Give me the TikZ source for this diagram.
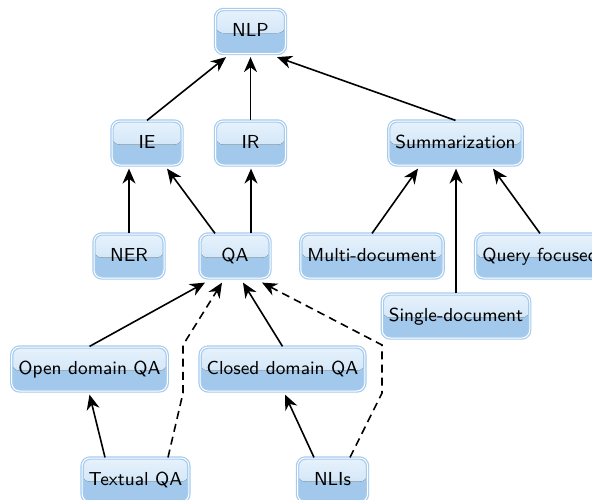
\documentclass[tikz,border=0pt]{standalone}
\usetikzlibrary{arrows.meta}
\definecolor{bordc}{RGB}{165,203,238}
\definecolor{topc}{RGB}{231,242,252}
\definecolor{midc}{RGB}{212,231,248}
\definecolor{botc}{RGB}{162,200,235}
\tikzset{
  box/.style={draw=bordc, line width=0.6pt, double=white, double distance=0.5pt,
    rounded corners=4pt, minimum width=35pt, minimum height=22pt,
    inner xsep=3.3pt, text height=1.5ex, text depth=0.3ex,
    font=\sffamily\fontsize{9.4}{11}\selectfont,
    path picture={
      \fill[botc] (path picture bounding box.south west) rectangle (path picture bounding box.north east);
      \fill[top color=topc, bottom color=midc] (path picture bounding box.north west) rectangle ([yshift=-0.8pt]path picture bounding box.east);
    }},
  arr/.style={-{Stealth[length=7.5pt,width=6.5pt,inset=2.4pt]}, line width=0.8pt, black},
  dsh/.style={arr, dash pattern=on 4pt off 2.6pt}
}
\begin{document}
\begin{tikzpicture}[x=0.5pt,y=-0.5pt]
\useasboundingbox (0,0) rectangle (592,499);
\node[box] (NLP) at (250.5,31.5) {NLP};
\node[box] (IE) at (147,143) {IE};
\node[box] (IR) at (250.5,143) {IR};
\node[box] (SUM) at (455.5,143) {Summarization};
\node[box] (NER) at (129,256) {NER};
\node[box] (QA) at (235,256) {QA};
\node[box] (MUL) at (372,256) {Multi-document};
\node[box] (QF) at (540,256) {Query focused};
\node[box] (SIN) at (456,316) {Single-document};
\node[box] (ODQ) at (89.5,369) {Open domain QA};
\node[box] (CDQ) at (282.5,369) {Closed domain QA};
\node[box] (TQA) at (135.5,480) {Textual QA};
\node[box] (NLI) at (332.5,480) {NLIs};

\draw[arr] (IE.north) -- ([shift={(-24.5,3)}]NLP.south);
\draw[arr] (IR.north) -- ([shift={(0,3)}]NLP.south);
\draw[arr] (SUM.north) -- ([shift={(26.5,3)}]NLP.south);

\draw[arr] (NER.north) -- ([shift={(0,3)}]NER.north |- IE.south);
\draw[arr] ([shift={(-20,0)}]QA.north) -- ([shift={(20,3)}]IE.south);
\draw[arr] ([shift={(16,0)}]QA.north) -- ([shift={(16,3)}]QA.north |- IR.south);

\draw[arr] (MUL.north) -- ([shift={(-37.5,3)}]SUM.south);
\draw[arr] (SIN.north) -- ([shift={(0.5,3)}]SUM.south);
\draw[arr] (QF.north) -- ([shift={(37.5,3)}]SUM.south);

\draw[arr] (ODQ.north) -- ([shift={(-30,4)}]QA.south);
\draw[dsh] ([shift={(32.5,0)}]TQA.north) -- (183,393) -- (183,345) -- ([shift={(-13,4)}]QA.south);
\draw[arr] (CDQ.north) -- ([shift={(8,4)}]QA.south);
\draw[dsh] ([shift={(17.5,0)}]NLI.north) -- (382,393) -- (382,345) -- ([shift={(27,4)}]QA.south);

\draw[arr] ([shift={(-30.5,0)}]TQA.north) -- ([shift={(0,3)}]ODQ.south);
\draw[arr] ([shift={(-18.5,0)}]NLI.north) -- ([shift={(2.5,3)}]CDQ.south);
\end{tikzpicture}
\end{document}
